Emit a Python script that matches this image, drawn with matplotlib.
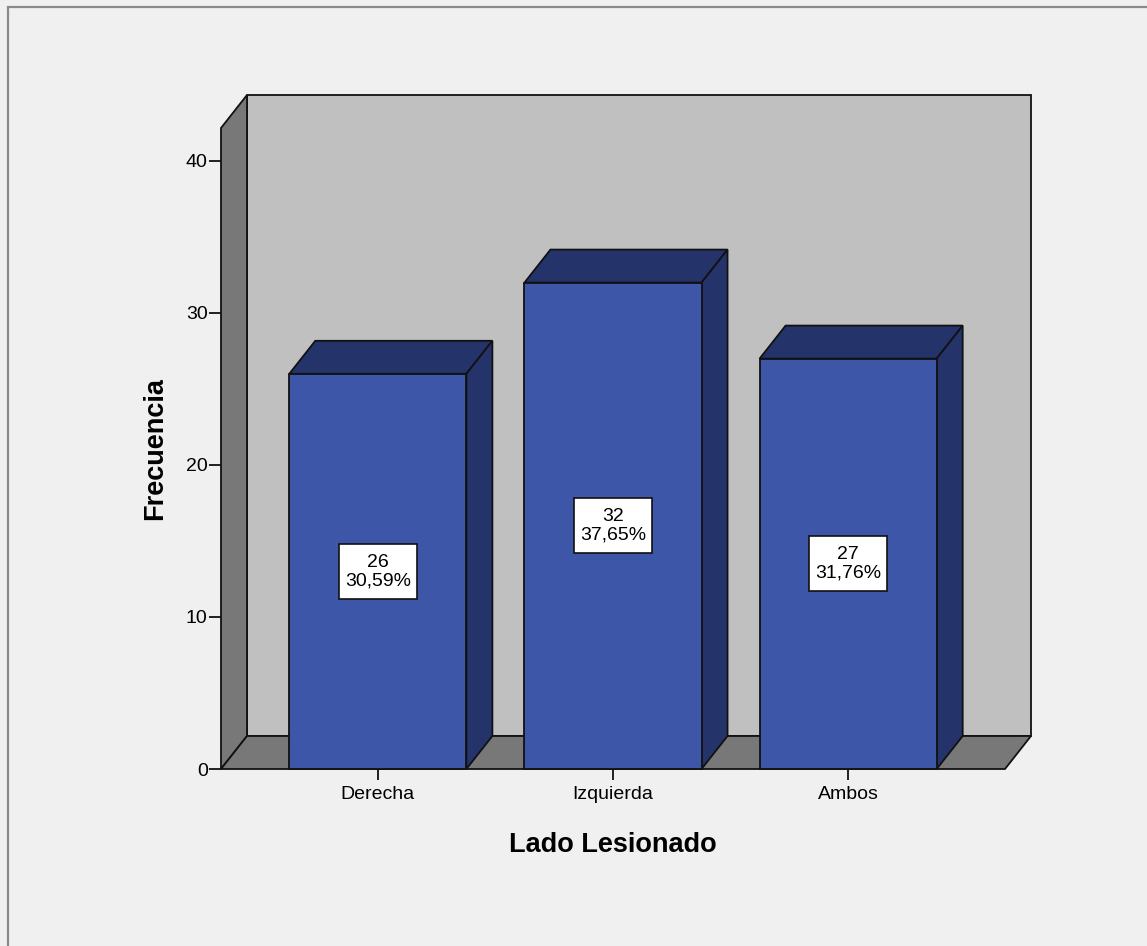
import matplotlib.pyplot as plt
from matplotlib.patches import Polygon, Rectangle
from matplotlib.transforms import ScaledTranslation

plt.rcParams['font.family'] = ['Liberation Sans', 'DejaVu Sans']

categories = ['Derecha', 'Izquierda', 'Ambos']
counts = [26, 32, 27]
y_ticks = [0, 10, 20, 30, 40]

FRONT = '#3d56a8'
DARK = '#24346a'
WALL = '#c0c0c0'
SIDE = '#787878'
EDGE = '#111111'


def main():
    fig = plt.figure(figsize=(11.47, 9.46), dpi=100, facecolor='#f0f0f0')
    # outer frame
    fig.patches.append(Rectangle((8 / 1147, -0.1), 1.2, 1.1 - 7 / 946,
                                 transform=fig.transFigure, fill=False,
                                 edgecolor='#8a8a8a', linewidth=1.6))
    ax = fig.add_axes([221 / 1147, 177 / 946, 784 / 1147, 641 / 946])
    ax.set_facecolor('none')
    x0, x1 = -0.667, 2.667
    y0, y1 = 0, 42.17
    ax.set_xlim(x0, x1)
    ax.set_ylim(y0, y1)

    # depth of the 3-D effect, 26 px right and 33 px up
    dx = 26 * (x1 - x0) / 784
    dy = 33 * (y1 - y0) / 641
    lw = 1.3

    def face(pts, color, z):
        ax.add_patch(Polygon(pts, closed=True, facecolor=color, edgecolor=EDGE,
                             linewidth=lw, joinstyle='miter', clip_on=False, zorder=z))

    # back wall, left wall, floor
    face([(x0 + dx, dy), (x1 + dx, dy), (x1 + dx, y1 + dy), (x0 + dx, y1 + dy)], WALL, 1)
    face([(x0, 0), (x0, y1), (x0 + dx, y1 + dy), (x0 + dx, dy)], SIDE, 2)
    face([(x0, 0), (x1, 0), (x1 + dx, dy), (x0 + dx, dy)], SIDE, 2)

    w = 0.753
    total = sum(counts)
    xs = list(range(len(categories)))
    ax.bar(xs, counts, width=w, color=FRONT, edgecolor=EDGE,
           linewidth=lw, zorder=5, clip_on=False)
    for x, v in zip(xs, counts):
        l, r = x - w / 2, x + w / 2
        face([(l, v), (r, v), (r + dx, v + dy), (l + dx, v + dy)], DARK, 4)
        face([(r, 0), (r + dx, dy), (r + dx, v + dy), (r, v)], DARK, 4)
        # white label box, fixed size in inches, centred on the bar middle
        anchor = fig.dpi_scale_trans + ScaledTranslation(x, v / 2, ax.transData)
        ax.add_patch(Rectangle((-0.39, -0.275), 0.78, 0.55, transform=anchor,
                               facecolor='white', edgecolor=EDGE, linewidth=1.2,
                               clip_on=False, zorder=9))
        pct = f'{100 * v / total:.2f}'.replace('.', ',')
        ax.text(x, v / 2, f'{v}\n{pct}%', ha='center', va='center', fontsize=14,
                linespacing=1.1, zorder=10)

    for s in ax.spines.values():
        s.set_visible(False)
    ax.set_yticks(y_ticks)
    ax.set_xticks(xs)
    ax.set_xticklabels(categories)
    ax.tick_params(axis='y', length=8.6, width=1.3, pad=1, labelsize=14,
                   color=EDGE)
    ax.tick_params(axis='x', length=8, width=1.3, pad=4, labelsize=14,
                   color=EDGE)
    ax.set_xlabel('Lado Lesionado', fontsize=19.5, fontweight='bold', labelpad=21)
    ax.set_ylabel('Frecuencia', fontsize=19.5, fontweight='bold', labelpad=13)

    fig.savefig('out.png', dpi=100, facecolor=fig.get_facecolor())


if __name__ == '__main__':
    main()
